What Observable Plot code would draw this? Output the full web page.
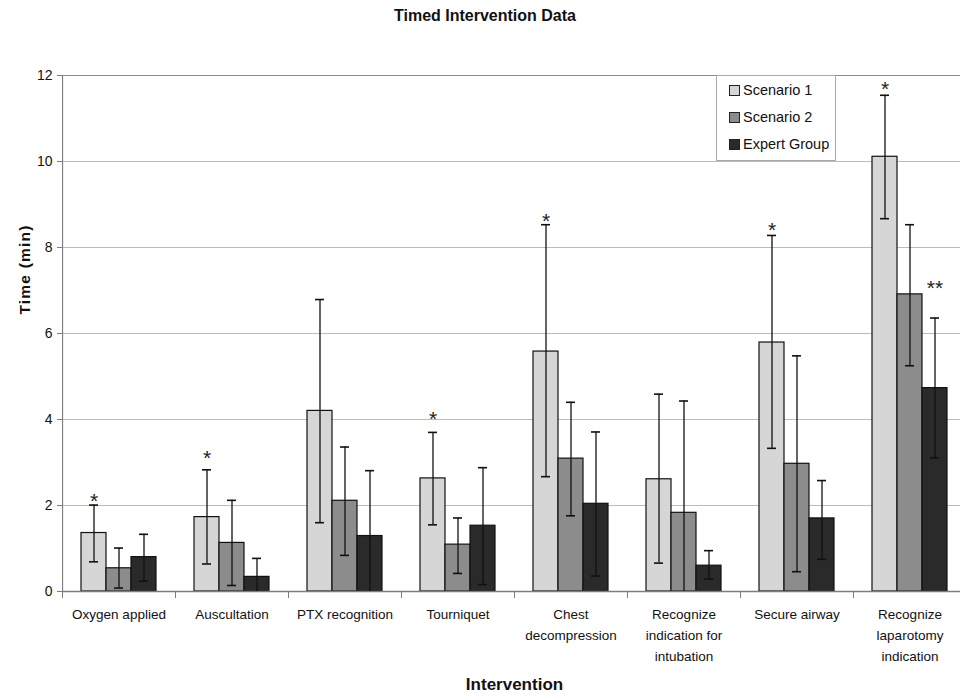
<!DOCTYPE html>
<html>
<head>
<meta charset="utf-8">
<script src="https://cdn.jsdelivr.net/npm/d3@7"></script>
<script src="https://cdn.jsdelivr.net/npm/@observablehq/plot@0.6"></script>
<style>
  html, body { margin: 0; padding: 0; background: #fff; }
  #wrap { position: relative; width: 960px; height: 696px; overflow: hidden; }
  #title { position: absolute; left: 0; top: 7px; width: 970px; text-align: center;
           font: bold 16px "Liberation Sans", Arial, sans-serif; color: #111; }
  #legend { position: absolute; left: 716px; top: 75px; width: 120px; height: 86px;
            background: #fff; border: 1px solid #a8a8a8; box-sizing: border-box;
            font: 14.5px "Liberation Sans", Arial, sans-serif; color: #111; }
  #legend .item { position: absolute; left: 12px; height: 20px; line-height: 20px; white-space: nowrap; }
  #legend .sw { display: inline-block; width: 9px; height: 9px; border: 1px solid #222;
                vertical-align: middle; margin-right: 3px; position: relative; top: -1px; }
</style>
</head>
<body>
<div id="wrap">
  <div id="title"></div>
  <div id="chart"></div>
  <div id="legend"></div>
</div>
<script>
const titleText = "Timed Intervention Data";
const xLabel = "Intervention";
const yLabel = "Time (min)";

const interventions = ["Oxygen applied", "Auscultation", "PTX recognition", "Tourniquet",
  "Chest decompression", "Recognize indication for intubation", "Secure airway",
  "Recognize laparotomy indication"];
const tickLabels = ["Oxygen applied", "Auscultation", "PTX recognition", "Tourniquet",
  "Chest\ndecompression", "Recognize\nindication for\nintubation", "Secure airway",
  "Recognize\nlaparotomy\nindication"];
const series = ["Scenario 1", "Scenario 2", "Expert Group"];
const colors = ["#d6d6d6", "#8c8c8c", "#2a2a2a"];

const scenario1     = [1.36, 1.73, 4.20, 2.63, 5.58, 2.61, 5.79, 10.11];
const scenario1Low  = [0.69, 0.64, 1.60, 1.55, 2.67, 0.66, 3.33, 8.67];
const scenario1High = [2.01, 2.83, 6.79, 3.70, 8.53, 4.59, 8.28, 11.54];
const scenario2     = [0.54, 1.13, 2.11, 1.09, 3.09, 1.83, 2.97, 6.91];
const scenario2Low  = [0.08, 0.14, 0.84, 0.42, 1.76, 0.00, 0.46, 5.25];
const scenario2High = [1.01, 2.12, 3.36, 1.71, 4.40, 4.43, 5.48, 8.53];
const expert        = [0.80, 0.34, 1.29, 1.53, 2.04, 0.60, 1.70, 4.73];
const expertLow     = [0.24, 0.00, 0.00, 0.16, 0.36, 0.29, 0.75, 3.11];
const expertHigh    = [1.33, 0.77, 2.81, 2.88, 3.71, 0.95, 2.58, 6.36];

const starIntervention = ["Oxygen applied", "Auscultation", "Tourniquet", "Chest decompression",
  "Secure airway", "Recognize laparotomy indication", "Recognize laparotomy indication"];
const starSeries = ["Scenario 1", "Scenario 1", "Scenario 1", "Scenario 1", "Scenario 1", "Scenario 1", "Expert Group"];
const starY = [2.24, 3.23, 4.15, 8.76, 8.53, 11.81, 7.2];
const starText = ["*", "*", "*", "*", "*", "*", "**"];

const yTicks = [0, 2, 4, 6, 8, 10, 12];

// tables built from the arrays
const means = [scenario1, scenario2, expert];
const lows = [scenario1Low, scenario2Low, expertLow];
const highs = [scenario1High, scenario2High, expertHigh];
const data = interventions.flatMap((iv, i) => series.map((s, j) => ({
  iv, s, v: means[j][i], lo: lows[j][i], hi: highs[j][i]
})));
const stars = starY.map((y, k) => ({iv: starIntervention[k], s: starSeries[k], y, t: starText[k]}));

const W = 960, H = 696, mL = 60, mR = -7, mT = 75, mB = 105;
const facetW = (W - mL - mR) / interventions.length;
const plotH = H - mT - mB;
const regular = "'Liberation Sans', Arial, sans-serif";
const axisGray = "#7d7d7d";

const chart = Plot.plot({
  width: W, height: H,
  marginLeft: mL, marginRight: mR, marginTop: mT, marginBottom: mB,
  style: {fontFamily: regular, fontSize: "13.5px", color: "#111", background: "transparent"},
  fx: {domain: interventions, padding: 0, label: null},
  x: {domain: series, paddingInner: 0, paddingOuter: 0.74, axis: null},
  y: {domain: [0, 12], axis: null},
  color: {domain: series, range: colors},
  marks: [
    Plot.ruleY(yTicks.filter(v => v > 0 && v < 12), {stroke: "#bcbcbc", strokeWidth: 1}),
    Plot.ruleY([12], {stroke: "#8a8a8a", strokeWidth: 1.2}),
    Plot.rect([interventions[0]], {fx: d => d, y1: 0, y2: 12, insetRight: facetW - 1.5, fill: axisGray}),
    Plot.frame({anchor: "left", stroke: axisGray, insetTop: plotH, insetBottom: -6}),
    Plot.barY(data, {fx: "iv", x: "s", y: "v", fill: "s", stroke: "#111", strokeWidth: 1.2}),
    Plot.ruleY([0], {stroke: axisGray, strokeWidth: 1.5}),
    Plot.ruleX(data, {fx: "iv", x: "s", y1: "lo", y2: "hi", stroke: "#111", strokeWidth: 1.3}),
    Plot.tickY(data, {fx: "iv", x: "s", y: "hi", stroke: "#111", strokeWidth: 1.6, insetLeft: 8, insetRight: 8}),
    Plot.tickY(data.filter(d => d.lo > 0), {fx: "iv", x: "s", y: "lo", stroke: "#111", strokeWidth: 1.6, insetLeft: 8, insetRight: 8}),
    Plot.text(stars, {fx: "iv", x: "s", y: "y", text: "t", fontSize: 21, fontFamily: regular, fill: "#222", dy: 6}),
    Plot.axisY({ticks: yTicks, tickSize: 5, tickPadding: 5, stroke: axisGray, fontSize: 14, label: null}),
    Plot.axisFx({anchor: "bottom", tickSize: 0, tickPadding: 13, lineHeight: 1.55, fontSize: 13.5, label: null,
      tickFormat: d => tickLabels[interventions.indexOf(d)]}),
    Plot.axisFx({anchor: "bottom", ticks: [], tickSize: 0, label: xLabel, labelAnchor: "center", labelOffset: 98,
      fontWeight: "bold", fontSize: 17, fontFamily: regular}),
    Plot.text([interventions[0]], {fx: d => d, text: () => yLabel, frameAnchor: "left", textAnchor: "middle",
      rotate: -90, dx: -37, dy: -64, fontWeight: "bold", fontSize: 15.5, fontFamily: regular, fill: "#111"})
  ]
});
document.getElementById("chart").appendChild(chart);
chart.querySelectorAll("text").forEach(t => {
  if (t.textContent === yLabel) t.style.letterSpacing = "1.2px";
});

document.getElementById("title").textContent = titleText;
const legend = document.getElementById("legend");
const rowTops = [4, 31, 58];
series.forEach((s, j) => {
  const item = document.createElement("div");
  item.className = "item";
  item.style.top = rowTops[j] + "px";
  const sw = document.createElement("span");
  sw.className = "sw";
  sw.style.background = colors[j];
  item.appendChild(sw);
  item.appendChild(document.createTextNode(s));
  legend.appendChild(item);
});
</script>
</body>
</html>
